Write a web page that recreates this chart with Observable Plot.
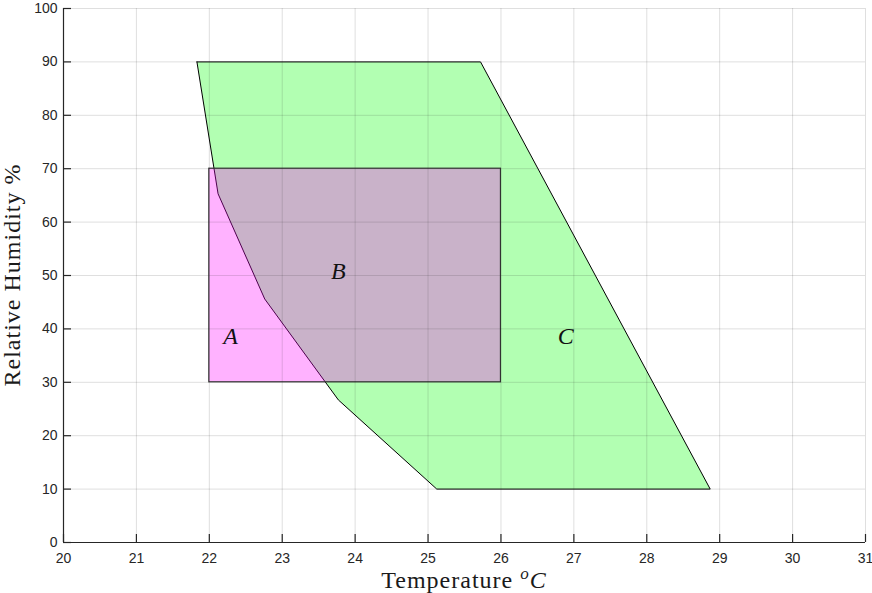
<!DOCTYPE html>
<html>
<head>
<meta charset="utf-8">
<script src="https://cdn.jsdelivr.net/npm/d3@7"></script>
<script src="https://cdn.jsdelivr.net/npm/@observablehq/plot@0.6"></script>
<style>
  html, body { margin: 0; padding: 0; background: #fff; }
  svg { display: block; }
</style>
</head>
<body>
<div id="chart"></div>
<script>
// Comfort zone C: polygon vertices (temperature °C, relative humidity %)
const zoneCTemp = [21.83, 25.72, 28.87, 25.12, 23.77, 22.76, 22.12, 21.83];
const zoneCRH   = [90, 90, 10, 10, 26.7, 45.6, 65.3, 90];

// Comfort zone rectangle (A + B)
const rectTemp = [22, 26];
const rectRH   = [30, 70];

// Zone labels
const labelText = ["A", "B", "C"];
const labelTemp = [22.29, 23.77, 26.89];
const labelRH   = [38.6, 50.8, 38.6];

// Axis ticks
const tempTicks = [20, 21, 22, 23, 24, 25, 26, 27, 28, 29, 30, 31];
const rhTicks   = [0, 10, 20, 30, 40, 50, 60, 70, 80, 90, 100];

const zoneC = zoneCTemp.map((t, i) => ({t, rh: zoneCRH[i]}));
const rectB = [{t1: rectTemp[0], t2: rectTemp[1], rh1: rectRH[0], rh2: rectRH[1]}];
const labels = labelText.map((s, i) => ({s, t: labelTemp[i], rh: labelRH[i]}));

const W = 872, H = 593;
const mL = 63, mR = 7, mT = 8, mB = 51;
const axisColor = "#262626";
const serif = "'Liberation Serif', 'DejaVu Serif', serif";

const chart = Plot.plot({
  width: W,
  height: H,
  marginLeft: mL,
  marginRight: mR,
  marginTop: mT,
  marginBottom: mB,
  x: {domain: [20, 31]},
  y: {domain: [0, 100]},
  style: {
    fontFamily: "'Liberation Sans', Arial, Helvetica, sans-serif",
    fontSize: "14px",
    color: axisColor,
    background: "white"
  },
  marks: [
    Plot.line(zoneC, {x: "t", y: "rh", fill: "#00ff00", fillOpacity: 0.3, stroke: "black", strokeWidth: 1}),
    Plot.rect(rectB, {x1: "t1", x2: "t2", y1: "rh1", y2: "rh2", fill: "#ff00ff", fillOpacity: 0.3, stroke: "#333", strokeWidth: 1.2}),
    Plot.gridX(tempTicks, {stroke: axisColor, strokeOpacity: 0.15}),
    Plot.gridY(rhTicks, {stroke: axisColor, strokeOpacity: 0.15}),
    Plot.ruleX([20], {stroke: axisColor, strokeWidth: 1.2}),
    Plot.ruleY([0], {stroke: axisColor, strokeWidth: 1.2}),
    Plot.tickX(tempTicks, {x: d => d, insetTop: H - mT - mB - 8, stroke: axisColor, strokeWidth: 1.2}),
    Plot.tickY(rhTicks, {y: d => d, insetRight: W - mL - mR - 8, stroke: axisColor, strokeWidth: 1.2}),
    Plot.axisX({ticks: tempTicks, tickSize: 0, tickPadding: 11, label: null}),
    Plot.axisY({ticks: rhTicks, tickSize: 0, tickPadding: 6, label: null}),
    Plot.text(labels, {
      x: "t", y: "rh", text: "s",
      fontStyle: "italic",
      fontFamily: serif,
      fontSize: 24,
      fill: "#111"
    })
  ]
});

// Axis titles with superscript / italic parts
const svg = d3.select(chart);
const [x0, x1] = chart.scale("x").range;
const [y0, y1] = chart.scale("y").range;

const xt = svg.append("text")
  .attr("x", (x0 + x1) / 2)
  .attr("y", 588)
  .attr("text-anchor", "middle")
  .attr("font-family", serif)
  .attr("font-size", 24)
  .attr("letter-spacing", 1)
  .attr("fill", "#1a1a1a");
xt.append("tspan").text("Temperature ");
xt.append("tspan").attr("font-style", "italic").attr("font-size", 17).attr("dy", -9).text("o");
xt.append("tspan").attr("font-style", "italic").attr("dy", 9).text("C");

svg.append("text")
  .attr("transform", `translate(19.5,${(y0 + y1) / 2}) rotate(-90)`)
  .attr("text-anchor", "middle")
  .attr("font-family", serif)
  .attr("font-size", 24)
  .attr("letter-spacing", 1)
  .attr("fill", "#1a1a1a")
  .text("Relative Humidity %");

document.getElementById("chart").appendChild(chart);
</script>
</body>
</html>
